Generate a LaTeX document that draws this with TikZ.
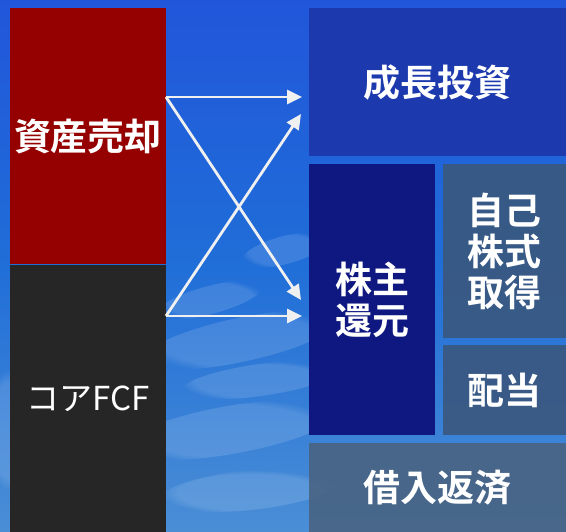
\documentclass[tikz,border=0pt]{standalone}
\usepackage{fontspec}
\newfontfamily\jp{Noto Sans CJK JP}[BoldFont={Noto Sans CJK JP Bold}]
\usetikzlibrary{arrows.meta,calc,fadings}
\definecolor{skytop}{RGB}{33,86,218}
\definecolor{skybot}{RGB}{74,142,214}
\definecolor{salered}{RGB}{149,0,0}
\definecolor{coregray}{RGB}{38,38,38}
\definecolor{growblue}{RGB}{28,58,174}
\definecolor{retnavy}{RGB}{14,24,128}
\definecolor{slate}{RGB}{58,88,128}
\definecolor{slatelt}{RGB}{72,100,132}
\definecolor{arrowc}{RGB}{240,240,240}
\tikzset{
  box/.style={anchor=north west, inner sep=0pt, outer sep=0pt, draw=none},
  lbl/.style={text=white, font=\jp\bfseries\fontsize{37}{41}\selectfont, align=center, inner sep=0pt},
  flow/.style={draw=arrowc, line width=2.8pt, -{Triangle[length=15pt,width=14pt]}},
  cloud/.style={fill=white, opacity=0.13, path fading=circle with fuzzy edge 20 percent}
}
\begin{document}
\begin{tikzpicture}[x=1pt,y=-1pt]
\useasboundingbox (0,0) rectangle (566,532);
\shade[top color=skytop, bottom color=skybot, middle color={rgb,255:red,32;green,110;blue,216}] (0,0) rectangle (566,532);
% faint clouds
\path[cloud, rotate around={12:(240,340)}] (240,340) ellipse (100 and 22);
\path[cloud, rotate around={8:(260,380)}] (260,380) ellipse (80 and 16);
\path[cloud, rotate around={10:(230,430)}] (230,430) ellipse (110 and 24);
\path[cloud, rotate around={6:(250,490)}] (250,490) ellipse (90 and 20);
\path[cloud, rotate around={15:(210,300)}] (210,300) ellipse (55 and 14);
\path[cloud] (10,430) ellipse (25 and 60);
\path[cloud, rotate around={15:(285,250)}] (285,250) ellipse (45 and 14);
% boxes
\node[box, fill=salered, minimum width=156pt, minimum height=256pt] (sale) at (10,8) {};
\node[box, fill=coregray, minimum width=156pt, minimum height=267pt] (core) at (10,265) {};
\node[box, fill=growblue, minimum width=257pt, minimum height=148pt] (grow) at (309,8) {};
\node[box, fill=retnavy, minimum width=126pt, minimum height=271pt] (ret) at (309,164) {};
\node[box, fill=slate, fill opacity=0.92, minimum width=123pt, minimum height=174pt] (buy) at (443,164) {};
\node[box, fill=slate, fill opacity=0.92, minimum width=123pt, minimum height=90pt] (div) at (443,345) {};
\node[box, fill=slatelt, fill opacity=0.92, minimum width=257pt, minimum height=89pt] (debt) at (309,443) {};
% labels
\node[lbl] (sale-t) at (sale.center) {資産売却};
\node[lbl, font=\jp\fontsize{33}{41}\selectfont] (core-t) at (core.center) {コアFCF};
\node[lbl] (grow-t) at (grow.center) {成長投資};
\node[lbl] (ret-t) at (ret.center) {株主\\還元};
\node[lbl] (buy-t) at (buy.center) {自己\\株式\\取得};
\node[lbl] (div-t) at (div.center) {配当};
\node[lbl] (debt-t) at (debt.center) {借入返済};
% arrow end points
\coordinate (s1) at ($(sale.north east)+(0,89)$);
\coordinate (s2) at ($(core.north east)+(0,51)$);
\coordinate (e1) at ($(grow.north west)+(-7,89)$);
\coordinate (e2) at ($(grow.north west)+(-8,106)$);
\coordinate (e3) at ($(ret.north west)+(-8,136)$);
\coordinate (e4) at ($(ret.north west)+(-7,152)$);
\draw[flow] (s1) -- (e1);
\draw[flow] (s1) -- (e3);
\draw[flow] (s2) -- (e2);
\draw[flow] (s2) -- (e4);
\end{tikzpicture}
\end{document}
